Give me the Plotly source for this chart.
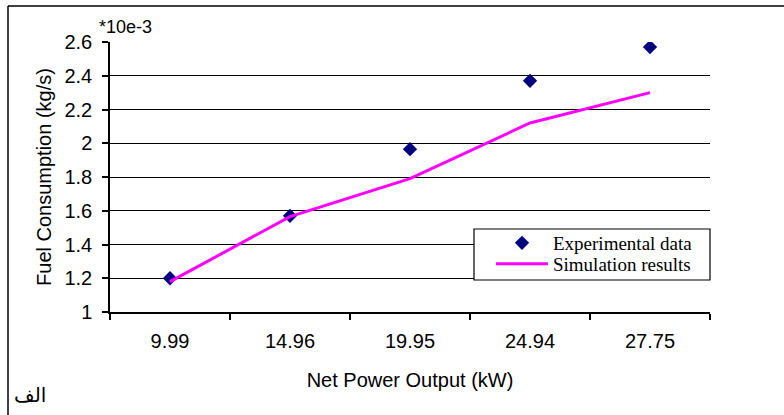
import plotly.graph_objects as go

categories = ["9.99", "14.96", "19.95", "24.94", "27.75"]
experimental = [1.20, 1.57, 1.965, 2.37, 2.57]
simulation = [1.18, 1.565, 1.79, 2.12, 2.30]
y_ticks = [1, 1.2, 1.4, 1.6, 1.8, 2, 2.2, 2.4, 2.6]

W, H = 784, 415
L, R, T, B = 110, 74, 42, 103
pw, ph = W - L - R, H - T - B

def px(x):
    return (x - L) / pw

def py(y):
    return (H - B - y) / ph

fig = go.Figure()
fig.add_trace(go.Scatter(
    x=categories, y=experimental, mode="markers", name="Experimental data",
    marker=dict(symbol="diamond", color="#000080", size=11), legend="legend",
))
fig.add_trace(go.Scatter(
    x=categories, y=simulation, mode="lines", name="Simulation results",
    line=dict(color="#FF00FF", width=3), legend="legend2",
))

legend_font = dict(family="Liberation Serif, Times New Roman", size=19, color="black")
legend_common = dict(xanchor="left", yanchor="middle", bgcolor="rgba(0,0,0,0)",
                     borderwidth=0, font=legend_font, itemwidth=52)

fig.update_layout(
    width=W, height=H,
    margin=dict(l=L, r=R, t=T, b=B, pad=0),
    paper_bgcolor="white", plot_bgcolor="white",
    font=dict(family="Liberation Sans, Arial", size=20, color="black"),
    showlegend=True,
    legend=dict(x=px(491), y=py(243), **legend_common),
    legend2=dict(x=px(491), y=py(264), **legend_common),
    xaxis=dict(
        type="category", range=[-0.5, 4.5],
        showline=True, linecolor="black", linewidth=1.5,
        ticks="outside", tickson="boundaries", ticklen=6, tickcolor="black", tickwidth=1.5,
        showgrid=False, zeroline=False,
        tickfont=dict(size=20), ticklabelstandoff=10,
        title=dict(text="Net Power Output (kW)", font=dict(size=20), standoff=22),
    ),
    yaxis=dict(
        range=[1, 2.6], tickvals=y_ticks,
        showline=True, linecolor="black", linewidth=1.5,
        ticks="outside", ticklen=6, tickcolor="black", tickwidth=1.5,
        showgrid=True, gridcolor="black", gridwidth=1.2,
        zeroline=False, tickfont=dict(size=20), ticklabelstandoff=6,
        title=dict(text="Fuel Consumption (kg/s)", font=dict(size=20), standoff=7),
    ),
    shapes=[
        dict(type="line", xref="paper", yref="paper", x0=px(8), x1=px(8), y0=py(420), y1=py(6),
             line=dict(color="black", width=1.5)),
        dict(type="line", xref="paper", yref="paper", x0=px(8), x1=px(790), y0=py(6), y1=py(6),
             line=dict(color="black", width=1.5)),
        dict(type="rect", xref="paper", yref="paper", x0=px(474), x1=px(710), y0=py(280), y1=py(229),
             line=dict(color="black", width=1.2), fillcolor="white", layer="above"),
    ],
    annotations=[
        dict(text="*10e-3", xref="paper", yref="paper", x=px(97), y=py(27),
             xanchor="left", yanchor="middle", showarrow=False, font=dict(size=18)),
        dict(text="الف", xref="paper", yref="paper", x=px(12), y=py(395),
             xanchor="left", yanchor="middle", showarrow=False,
             font=dict(family="DejaVu Sans, Noto Sans", size=20)),
    ],
)

fig.write_html("out.html", config={"displayModeBar": False},
               post_script="document.body.style.margin='0';")
